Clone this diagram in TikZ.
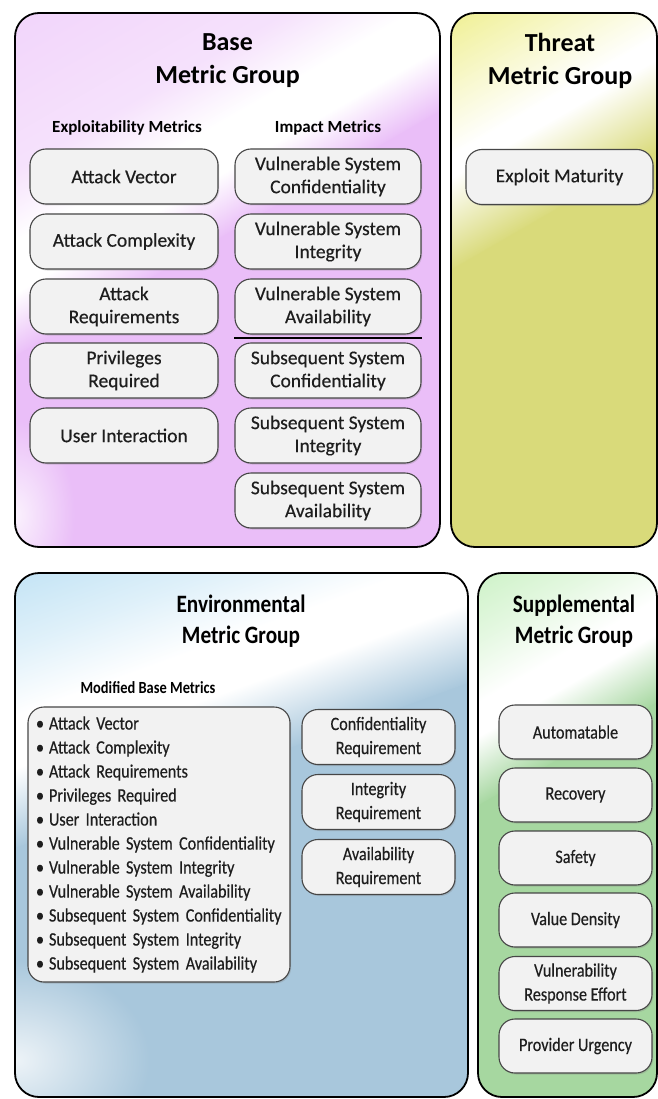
\documentclass[tikz,border=0pt]{standalone}
\usepackage{fontspec}
\setmainfont{Carlito}
\newfontfamily\cellfont[FakeBold=0.4]{Carlito}
\newfontfamily\narrowfont[FakeStretch=0.85, FakeBold=0.4]{Carlito}
\newfontfamily\narrowbold[FakeStretch=0.85]{Carlito}
\usetikzlibrary{shadows,fadings}

% group colours
\definecolor{basec}{RGB}{234,190,248}
\definecolor{threatc}{RGB}{217,218,122}
\definecolor{threatl}{RGB}{240,240,150}
\definecolor{envc}{RGB}{168,199,220}
\definecolor{envl}{RGB}{196,228,245}
\definecolor{suppc}{RGB}{166,215,160}
\definecolor{suppl}{RGB}{206,242,200}
\definecolor{cellfill}{RGB}{242,242,242}
\definecolor{celledge}{RGB}{70,70,70}
\definecolor{celltext}{RGB}{30,30,30}

\tikzfading[name=softglow, inner color=transparent!20, outer color=transparent!100]

\newcommand{\bulletline}[1]{\mbox{\makebox[6pt][c]{\textbullet}\hspace{6pt}#1}}

\tikzset{
  groupframe/.style={draw=black, line width=1.8pt, rounded corners=24pt},
  cell/.style={draw=celledge, line width=1.1pt, fill=cellfill, rounded corners=16pt,
    minimum height=55pt, inner sep=0pt, align=center, text=celltext,
    drop shadow={shadow xshift=1.2pt, shadow yshift=-1.5pt, opacity=0.3}},
  topcell/.style={cell, font=\cellfont\fontsize{19.5}{23}\selectfont},
  botcell/.style={cell, minimum width=153pt, font=\narrowfont\fontsize{19}{24}\selectfont},
  grouptitle/.style={align=center, text=black, font=\bfseries\fontsize{26}{33}\selectfont},
  bottitle/.style={align=center, text=black, font=\narrowbold\bfseries\fontsize{25}{31}\selectfont},
  header/.style={anchor=base, text=black, font=\bfseries\fontsize{17}{20}\selectfont},
  botheader/.style={anchor=base, text=black, font=\narrowbold\bfseries\fontsize{17}{20}\selectfont},
  listbox/.style={draw=celledge, line width=1.1pt, fill=cellfill, rounded corners=16pt,
    minimum width=262pt, minimum height=275pt, text width=244pt, inner xsep=9pt,
    inner ysep=0pt, align=left, text=celltext, font=\narrowfont\fontsize{19}{24}\selectfont,
    drop shadow={shadow xshift=1.2pt, shadow yshift=-1.5pt, opacity=0.3}}
}

% piecewise glare: bands of a tilted gradient, drawn in a rotated frame
% #1 x-from, #2 x-to, #3 list of y-levels, #4..#9 colours
\newcommand{\glare}[9]{%
  \fill[#4] (#1,#3-900) rectangle (#2,#3+1);
}

\begin{document}
\begin{tikzpicture}[x=1pt,y=-1pt]
\useasboundingbox (0,0) rectangle (657,1099);

% ---- Base metric group panel
\begin{scope}
  \clip[rounded corners=24pt] (15,13) rectangle (440,547);
  \begin{scope}[transform canvas={rotate around={30:(227.5,280)}}]
    \fill[basec!65!white] (-220,-220) rectangle (680,-56);
    \shade[top color=basec!65!white, bottom color=basec!45!white] (-220,-57) rectangle (680,81);
    \shade[top color=basec!45!white, bottom color=white] (-220,80) rectangle (680,141);
    \fill[white] (-220,140) rectangle (680,186);
    \shade[top color=white, bottom color=basec] (-220,185) rectangle (680,241);
    \fill[basec] (-220,240) rectangle (680,780);
  \end{scope}
  \fill[white, path fading=softglow] (15,515) ellipse [x radius=60pt, y radius=95pt];
\end{scope}
\draw[groupframe] (15,13) rectangle (440,547);

% ---- Threat metric group panel
\begin{scope}
  \clip[rounded corners=24pt] (451,13) rectangle (657,547);
  \begin{scope}[transform canvas={rotate around={30:(554,280)}}]
    \fill[threatl] (150,-220) rectangle (960,1);
    \shade[top color=threatl, bottom color=threatl!50!white] (150,0) rectangle (960,61);
    \shade[top color=threatl!50!white, bottom color=white] (150,60) rectangle (960,121);
    \fill[white] (150,120) rectangle (960,141);
    \shade[top color=white, bottom color=threatc] (150,140) rectangle (960,221);
    \fill[threatc] (150,220) rectangle (960,780);
  \end{scope}
\end{scope}
\draw[groupframe] (451,13) rectangle (657,547);

% ---- Environmental metric group panel
\begin{scope}
  \clip[rounded corners=24pt] (15,573) rectangle (468,1097);
  \begin{scope}[transform canvas={rotate around={20:(241.5,835)}}]
    \fill[envl] (-250,320) rectangle (740,513);
    \shade[top color=envl, bottom color=envl!50!white] (-250,512) rectangle (740,586);
    \shade[top color=envl!50!white, bottom color=white] (-250,585) rectangle (740,646);
    \fill[white] (-250,645) rectangle (740,696);
    \shade[top color=white, bottom color=envc] (-250,695) rectangle (740,771);
    \fill[envc] (-250,770) rectangle (740,1350);
  \end{scope}
  \fill[white, path fading=softglow] (15,1060) ellipse [x radius=135pt, y radius=100pt];
\end{scope}
\draw[groupframe] (15,573) rectangle (468,1097);

% ---- Supplemental metric group panel
\begin{scope}
  \clip[rounded corners=24pt] (478,573) rectangle (657,1097);
  \begin{scope}[transform canvas={rotate around={30:(567.5,835)}}]
    \fill[suppl] (250,380) rectangle (890,566);
    \shade[top color=suppl, bottom color=suppl!50!white] (250,565) rectangle (890,626);
    \shade[top color=suppl!50!white, bottom color=white] (250,625) rectangle (890,676);
    \fill[white] (250,675) rectangle (890,706);
    \shade[top color=white, bottom color=suppc] (250,705) rectangle (890,766);
    \fill[suppc] (250,765) rectangle (890,1290);
  \end{scope}
\end{scope}
\draw[groupframe] (478,573) rectangle (657,1097);

% ---- titles
\node[grouptitle] (basetitle) at (227.5,61) {Base\\Metric Group};
\node[grouptitle] (threattitle) at (560,61) {Threat\\Metric Group};
\node[bottitle] (envtitle) at (241,621) {Environmental\\Metric Group};
\node[bottitle] (supptitle) at (574,621) {Supplemental\\Metric Group};

% ---- base group: exploitability and impact columns
\node[header] (exphdr) at (127,133) {Exploitability Metrics};
\node[header] (imphdr) at (328,133) {Impact Metrics};

\node[topcell, minimum width=188pt] (av) at (124,176.5) {Attack Vector};
\node[topcell, minimum width=188pt] (ac) at (124,241.5) {Attack Complexity};
\node[topcell, minimum width=188pt] (at) at (124,306.5) {Attack\\Requirements};
\node[topcell, minimum width=188pt] (pr) at (124,370.5) {Privileges\\Required};
\node[topcell, minimum width=188pt] (ui) at (124,435.5) {User Interaction};

\node[topcell, minimum width=186pt] (vc) at (328,176.5) {Vulnerable System\\Confidentiality};
\node[topcell, minimum width=186pt] (vi) at (328,241.5) {Vulnerable System\\Integrity};
\node[topcell, minimum width=186pt] (va) at (328,306.5) {Vulnerable System\\Availability};
\node[topcell, minimum width=186pt] (sc) at (328,370.5) {Subsequent System\\Confidentiality};
\node[topcell, minimum width=186pt] (si) at (328,435.5) {Subsequent System\\Integrity};
\node[topcell, minimum width=186pt] (sa) at (328,500.5) {Subsequent System\\Availability};

% divider between vulnerable and subsequent system metrics
\draw[line width=1.8pt] ([yshift=-3.5pt]va.south west) -- ([yshift=-3.5pt]va.south east);

% ---- threat group
\node[topcell, minimum width=187pt] (em) at (559.5,177) {Exploit Maturity};

% ---- environmental group
\node[botheader] (modhdr) at (148,693) {Modified Base Metrics};
\node[listbox] (modlist) at (159,844.5) {%
\bulletline{Attack Vector}\\
\bulletline{Attack Complexity}\\
\bulletline{Attack Requirements}\\
\bulletline{Privileges Required}\\
\bulletline{User Interaction}\\
\bulletline{Vulnerable System Confidentiality}\\
\bulletline{Vulnerable System Integrity}\\
\bulletline{Vulnerable System Availability}\\
\bulletline{Subsequent System Confidentiality}\\
\bulletline{Subsequent System Integrity}\\
\bulletline{Subsequent System Availability}};

\node[botcell] (cr) at (378.5,737) {Confidentiality\\Requirement};
\node[botcell] (ir) at (378.5,802) {Integrity\\Requirement};
\node[botcell] (ar) at (378.5,867) {Availability\\Requirement};

% ---- supplemental group
\node[botcell, minimum height=54pt] (au) at (575.5,732) {Automatable};
\node[botcell, minimum height=54pt] (re) at (575.5,795) {Recovery};
\node[botcell, minimum height=54pt] (sf) at (575.5,858) {Safety};
\node[botcell, minimum height=54pt] (vd) at (575.5,920) {Value Density};
\node[botcell, minimum height=54pt] (vr) at (575.5,983.5) {Vulnerability\\Response Effort};
\node[botcell, minimum height=54pt] (pu) at (575.5,1046) {Provider Urgency};
\end{tikzpicture}
\end{document}
